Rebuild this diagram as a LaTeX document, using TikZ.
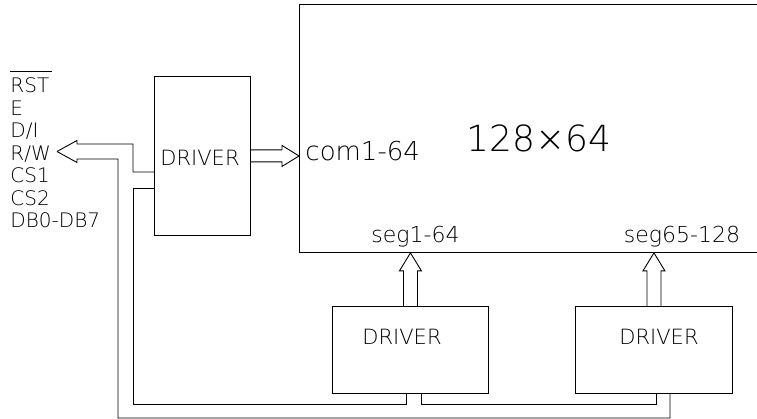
\documentclass[tikz,border=0pt]{standalone}
\usepackage{fontspec}
\IfFontExistsTF{DejaVu Sans ExtraLight}{\setmainfont{DejaVu Sans ExtraLight}}{\setmainfont{DejaVu Sans Mono}}
\usetikzlibrary{calc}
\begin{document}
\begin{tikzpicture}[x=1pt,y=-1pt,line width=0.9pt,
  txt/.style={inner sep=0pt,font=\fontsize{#1}{#1}\selectfont},
  boxnode/.style={draw,inner sep=0pt,anchor=north west}]
\useasboundingbox (0,0) rectangle (757,419);
\clip (0,0) rectangle (757,419);
% boxes
\node[boxnode,minimum width=480pt,minimum height=248pt] (lcd) at (299,4) {};
\node[boxnode,minimum width=96pt,minimum height=159pt] (drvL) at (154,76) {};
\node[boxnode,minimum width=156pt,minimum height=87pt] (drv1) at (332,306) {};
\node[boxnode,minimum width=157pt,minimum height=87pt] (drv2) at (575,306) {};
% box texts
\node[txt=21] (drvLt) at (200,158) {DRIVER};
\node[txt=21] (drv1t) at (402,337) {DRIVER};
\node[txt=21] (drv2t) at (659,337) {DRIVER};
\node[txt=36,anchor=base] (size) at (539,152) {128×64};
\node[txt=26,anchor=base west] (com) at (305,161) {com1-64};
\node[txt=22,anchor=base] (seg1) at (415.5,243) {seg1-64};
\node[txt=22,anchor=base] (seg2) at (682,243) {seg65-128};
% left labels
\node[txt=20,anchor=base west] (rst) at (10,93) {RST};
\node[txt=20,anchor=base west] (e) at (10,115.5) {E};
\node[txt=20,anchor=base west] (di) at (10,138) {D/I};
\node[txt=20,anchor=base west] (rw) at (10,160.5) {R/W};
\node[txt=20,anchor=base west] (cs1) at (10,183) {CS1};
\node[txt=20,anchor=base west] (cs2) at (10,205.5) {CS2};
\node[txt=20,anchor=base west] (db) at (10,228) {DB0-DB7};
\draw ($(rst.north west)+(0,-6)$) -- ($(rst.north east)+(2,-6)$);
% com arrow
\coordinate (ca) at (drvL.east);
\coordinate (cb) at (lcd.west |- drvL.east);
\draw ($(ca)+(0,-6)$) -- ($(cb)+(-17,-6)$) -- ($(cb)+(-17,-10.5)$) -- (cb)
  -- ($(cb)+(-17,10.5)$) -- ($(cb)+(-17,6)$) -- ($(ca)+(0,6)$);
% seg arrows
\coordinate (t1) at (drv1.north |- lcd.south);
\draw ($(drv1.north)+(-7,0)$) -- ($(t1)+(-7,18)$) -- ($(t1)+(-11,18)$) -- (t1)
  -- ($(t1)+(11,18)$) -- ($(t1)+(7,18)$) -- ($(drv1.north)+(7,0)$);
\coordinate (t2) at (drv2.north |- lcd.south);
\draw ($(drv2.north)+(-7,0)$) -- ($(t2)+(-7,18)$) -- ($(t2)+(-11,18)$) -- (t2)
  -- ($(t2)+(11,18)$) -- ($(t2)+(7,18)$) -- ($(drv2.north)+(7,0)$);
% bus to the left
\coordinate (tip) at (57,151.5);
\draw (tip) -- (77,140.5) -- (77,144) -- (133,144) -- (133,172) -- (drvL.west |- 0,172);
\draw (tip) -- (77,162.5) -- (77,159) -- (118,159) -- (118,418) -- (670,418) -- (drv2.south -| 670,0);
\draw (drvL.west |- 0,188) -- (133,188) -- (133,404) -- (406,404) -- (drv1.south -| 406,0);
\draw (drv1.south -| 421,0) -- (421,404) -- (656,404) -- (drv2.south -| 656,0);
\end{tikzpicture}
\end{document}
